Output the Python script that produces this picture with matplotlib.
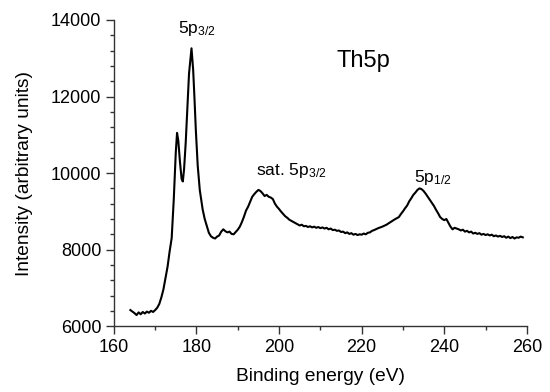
import matplotlib.pyplot as plt

plt.rcParams['font.family'] = ['Liberation Sans', 'DejaVu Sans']
plt.rcParams['mathtext.fontset'] = 'custom'
plt.rcParams['mathtext.rm'] = 'Liberation Sans'
plt.rcParams['mathtext.it'] = 'Liberation Sans'

# binding energy (eV) and intensity
energy = [164.0, 164.5, 165.0, 165.5, 166.0, 166.5, 167.0, 167.5, 168.0, 168.5,
          169.0, 169.5, 170.0, 170.5, 171.0, 171.5, 172.0, 172.5, 173.0, 173.5,
          174.0, 174.5, 175.0, 175.3, 175.6, 176.0, 176.4, 176.7, 177.0, 177.4,
          177.8, 178.2, 178.8, 179.2, 179.5, 179.85, 180.3, 180.8, 181.5, 182.0,
          182.5, 183.0, 183.5, 184.0, 184.5, 185.0, 185.5, 186.0, 186.5, 187.0,
          187.5, 188.0, 188.5, 189.0, 189.5, 190.0, 190.5, 191.0, 191.5, 192.0,
          192.5, 193.0, 193.5, 194.0, 194.5, 195.0, 195.5, 196.0, 196.5, 197.0,
          197.5, 198.0, 198.5, 199.0, 199.5, 200.0, 200.5, 201.0, 201.5, 202.0,
          202.5, 203.0, 203.5, 204.0, 204.5, 205.0, 205.5, 206.0, 206.5, 207.0,
          207.5, 208.0, 208.5, 209.0, 209.5, 210.0, 210.5, 211.0, 211.5, 212.0,
          212.5, 213.0, 213.5, 214.0, 214.5, 215.0, 215.5, 216.0, 216.5, 217.0,
          217.5, 218.0, 218.5, 219.0, 219.5, 220.0, 220.5, 221.0, 221.5, 222.0,
          222.5, 223.0, 224.0, 225.0, 226.0, 227.0, 228.0, 229.0, 229.5,
          230.0, 230.5, 231.0, 231.5, 232.0, 232.5, 233.0, 233.5, 234.0, 234.5,
          235.0, 235.5, 236.0, 236.5, 237.0, 237.5, 238.0, 238.5, 239.0, 239.5,
          240.0, 240.5, 241.0, 241.5, 242.0, 242.5, 243.0, 243.5, 244.0, 244.5,
          245.0, 245.5, 246.0, 246.5, 247.0, 247.5, 248.0, 248.5, 249.0, 249.5,
          250.0, 250.5, 251.0, 251.5, 252.0, 252.5, 253.0, 253.5, 254.0, 254.5,
          255.0, 255.5, 256.0, 256.5, 257.0, 257.5, 258.0, 258.5, 259.0]
intensity = [6420, 6380, 6340, 6290, 6360, 6310, 6370, 6330, 6380, 6350,
             6400, 6370, 6420, 6480, 6580, 6750, 6960, 7250, 7550, 7950,
             8300, 9300, 10550, 11050, 10850, 10300, 9850, 9780, 10100, 10800,
             11700, 12600, 13260, 12700, 12000, 11120, 10200, 9560, 9050, 8800,
             8620, 8440, 8350, 8310, 8290, 8340, 8370, 8470, 8530, 8480,
             8450, 8470, 8410, 8400, 8460, 8520, 8600, 8720, 8860, 9020,
             9120, 9250, 9380, 9450, 9510, 9560, 9530, 9470, 9400, 9430,
             9380, 9360, 9320, 9200, 9120, 9060, 8990, 8930, 8870, 8830,
             8780, 8750, 8720, 8690, 8660, 8630, 8650, 8610, 8620, 8590,
             8610, 8580, 8600, 8570, 8590, 8560, 8580, 8550, 8570, 8530,
             8550, 8510, 8520, 8490, 8500, 8460, 8470, 8430, 8450, 8410,
             8430, 8390, 8410, 8380, 8400, 8390, 8420, 8400, 8440, 8450,
             8490, 8510, 8560, 8600, 8650, 8720, 8790, 8850, 8930,
             9000, 9080, 9150, 9260, 9340, 9430, 9490, 9560, 9600, 9580,
             9530, 9460, 9380, 9300, 9220, 9140, 9040, 8950, 8850, 8800,
             8770, 8800, 8700, 8600, 8530, 8570, 8550, 8530, 8500, 8520,
             8470, 8490, 8450, 8470, 8420, 8440, 8410, 8430, 8390, 8410,
             8380, 8400, 8370, 8390, 8350, 8370, 8340, 8360, 8330, 8350,
             8310, 8340, 8300, 8330, 8290, 8320, 8310, 8340, 8320]

fig = plt.figure(figsize=(5.5, 3.92), dpi=100)
ax = fig.add_axes([0.207, 0.168, 0.751, 0.781])
ax.plot(energy, intensity, color='black', lw=1.5)

ax.set_xlim(160, 260)
ax.set_ylim(6000, 14000)
ax.set_xticks([160, 180, 200, 220, 240, 260])
ax.set_xticks([170, 190, 210, 230, 250], minor=True)
ax.set_yticks([6000, 8000, 10000, 12000, 14000])
ax.set_yticks([6400, 6800, 7200, 7600, 8400, 8800, 9200, 9600, 10400, 10800,
               11200, 11600, 12400, 12800, 13200, 13600], minor=True)
for side in ['top', 'right']:
    ax.spines[side].set_visible(False)
for side in ['left', 'bottom']:
    ax.spines[side].set_linewidth(1.0)
    ax.spines[side].set_color('#333333')
ax.tick_params(which='major', length=5.5, width=1.0, color='#333333', labelsize=13)
ax.tick_params(which='minor', length=3, width=1.0, color='#333333')

ax.set_xlabel('Binding energy (eV)', fontsize=13.8, labelpad=9)
ax.set_ylabel('Intensity (arbitrary units)', fontsize=13.8, labelpad=13)

ax.text(220.5, 12930, 'Th5p', fontsize=17, ha='center', va='center')
ax.text(175.5, 13660, '5p$_{3/2}$', fontsize=12.5, ha='left', va='baseline')
ax.text(194.4, 9950, 'sat. 5p$_{3/2}$', fontsize=12.5, ha='left', va='baseline')
ax.text(232.6, 9775, '5p$_{1/2}$', fontsize=12.5, ha='left', va='baseline')

fig.savefig('out.png', dpi=100)
